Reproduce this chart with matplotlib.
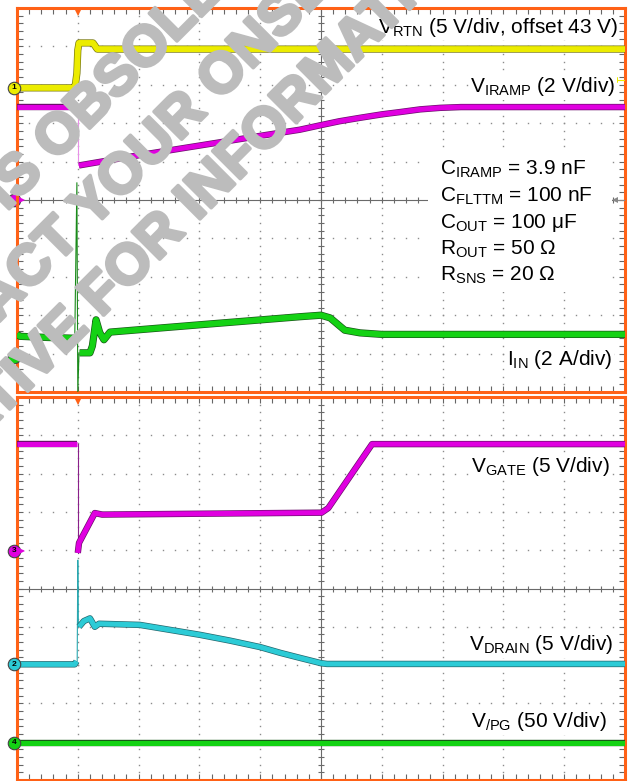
import numpy as np
import matplotlib
matplotlib.use('Agg')
import matplotlib.pyplot as plt
import matplotlib.patheffects as pe
from matplotlib.patches import Rectangle

plt.rcParams['font.family'] = ['Liberation Sans', 'DejaVu Sans']
plt.rcParams['mathtext.fontset'] = 'custom'
plt.rcParams['mathtext.rm'] = 'Liberation Sans'
plt.rcParams['mathtext.default'] = 'regular'

# screen geometry (pixels)
W, H = 628, 781
X0, X1 = 17, 625
TOP_PANEL = (8, 392)
BOT_PANEL = (397, 780)

# all traces in screen divisions, 10 x 10 per panel, trigger at 1 div
# --- upper panel ---
rtn_t = [0, 0.93, 0.96, 0.985, 1.0, 1.02, 1.25, 1.32, 10]
rtn_v = [7.92, 7.92, 8.0, 8.3, 8.9, 9.09, 9.09, 8.93, 8.93]

iramp_pre_t = [0, 0.97]
iramp_pre_v = [7.42, 7.42]
iramp_t = [1.02, 2.02, 3.01, 4.0, 4.65, 5.0, 5.3, 5.64, 6.0, 6.3, 6.63, 6.96, 7.3, 10]
iramp_v = [5.9, 6.17, 6.42, 6.67, 6.83, 6.95, 7.05, 7.14, 7.23, 7.29, 7.36, 7.40, 7.42, 7.42]

iin_pre_t = [0, 0.05, 0.5, 0.95]
iin_pre_v = [1.5, 1.45, 1.42, 1.4]
iin_spike_t = [0.95, 0.985, 1.0, 1.02]
iin_spike_v = [1.4, 5.45, 0.0, 1.02]
iin_t = [1.03, 1.2, 1.24, 1.3, 1.36, 1.43, 1.53, 3.0, 4.65, 5.0, 5.15, 5.39, 5.64, 6.0, 10]
iin_v = [1.02, 1.02, 1.2, 1.88, 1.55, 1.36, 1.56, 1.75, 1.96, 2.0, 1.93, 1.61, 1.54, 1.5, 1.5]

# --- lower panel ---
gate_pre_t = [0, 0.98]
gate_pre_v = [8.77, 8.77]
gate_t = [1.0, 1.02, 1.28, 1.4, 5.01, 5.12, 5.84, 5.95, 10]
gate_v = [5.93, 6.19, 6.97, 6.93, 6.98, 7.1, 8.77, 8.77, 8.77]

drain_pre_t = [0, 0.95, 0.98]
drain_pre_v = [3.02, 3.02, 3.1]
drain_edge_t = [0.99, 1.0, 1.01]
drain_edge_v = [3.1, 5.74, 4.0]
drain_t = [1.02, 1.1, 1.2, 1.28, 1.35, 2.02, 3.01, 3.5, 4.0, 4.33, 4.65, 5.0, 5.1, 10]
drain_v = [4.0, 4.15, 4.22, 4.0, 4.08, 4.05, 3.79, 3.64, 3.47, 3.32, 3.19, 3.05, 3.03, 3.03]

pg_t = [0, 10]
pg_v = [0.97, 0.97]

ORANGE = '#ff6116'
YELLOW = '#ecec00'
MAGENTA = '#e000e0'
GREEN = '#14d214'
CYAN = '#2ccbd6'

fig = plt.figure(figsize=(W / 100, H / 100), dpi=100)


def panel(y0, y1):
    ax = fig.add_axes([X0 / W, 1 - y1 / H, (X1 - X0) / W, (y1 - y0) / H])
    ax.set_xlim(0, 10)
    ax.set_ylim(0, 10)
    minor = np.arange(0, 10.001, 0.2)
    ax.set_xticks(minor)
    ax.set_yticks(minor)
    ax.tick_params(direction='in', length=4, width=0.8, color='#666',
                   top=True, right=True, labelbottom=False, labelleft=False)
    for s in ax.spines.values():
        s.set_color(ORANGE)
        s.set_linewidth(2.2)
    # dotted graticule
    for d in [1, 2, 3, 4, 6, 7, 8, 9]:
        ax.plot([d] * len(minor), minor, ls='none', marker='s', ms=1.0,
                mew=0, color='#8c8c8c', zorder=1)
        ax.plot(minor, [d] * len(minor), ls='none', marker='s', ms=1.0,
                mew=0, color='#8c8c8c', zorder=1)
    # centre axes with cross ticks
    ax.axhline(5, color='#6a6a6a', lw=0.8, zorder=1)
    ax.axvline(5, color='#6a6a6a', lw=0.8, zorder=1)
    ax.plot(minor, [5] * len(minor), ls='none', marker='|', ms=5, mew=0.8,
            color='#6a6a6a', zorder=1)
    ax.plot([5] * len(minor), minor, ls='none', marker='_', ms=5, mew=0.8,
            color='#6a6a6a', zorder=1)
    # trigger position
    ax.plot(1.0, 9.86, marker='v', ms=5, color=ORANGE, mew=0, zorder=6)
    return ax


def trace(ax, t, v, color, edge, lw=4.2):
    ax.plot(t, v, color=color, lw=lw, solid_capstyle='butt',
            solid_joinstyle='round', zorder=4,
            path_effects=[pe.Stroke(linewidth=lw + 1.0, foreground=edge),
                          pe.Normal()])


def thin(ax, t, v, color):
    ax.plot(t, v, color=color, lw=0.8, zorder=4)


def channel(ax, y, color, num, behind=False):
    ax.plot(-0.05, y, 'o', ms=9, mfc=color, mec='#444', mew=0.8,
            clip_on=False, zorder=1 if behind else 6)
    if not behind:
        ax.text(-0.05, y, num, fontsize=6, fontweight='bold', ha='center',
                va='center', zorder=7, clip_on=False)


def label(ax, x, y, s, ha='right'):
    ax.text(x, y, s, fontsize=15, ha=ha, va='baseline', zorder=8,
            bbox=dict(facecolor='white', edgecolor='none', pad=1))


ax1 = panel(*TOP_PANEL)
ax2 = panel(*BOT_PANEL)

# upper panel traces
trace(ax1, rtn_t, rtn_v, YELLOW, '#7a7a10')
trace(ax1, iramp_pre_t, iramp_pre_v, MAGENTA, '#6a106a', lw=3.6)
thin(ax1, [1.0, 1.0], [iramp_pre_v[-1], iramp_v[0]], '#e890e8')
trace(ax1, iramp_t, iramp_v, MAGENTA, '#6a106a', lw=3.6)
trace(ax1, iin_pre_t, iin_pre_v, GREEN, '#185818')
thin(ax1, iin_spike_t, iin_spike_v, '#1a8a1a')
trace(ax1, iin_t, iin_v, GREEN, '#185818')

channel(ax1, rtn_v[0], YELLOW, '1')
channel(ax1, 5.0, MAGENTA, '', behind=True)
ax1.plot(0.08, 5.0, marker='>', ms=5, color=MAGENTA, mew=0, clip_on=False, zorder=6)
channel(ax1, 0.91, GREEN, '4')
ax1.plot([9.84, 10], [8.125, 8.125], color=YELLOW, lw=0.8, zorder=6)
ax1.plot(9.84, 8.125, marker='<', ms=5, color=YELLOW, mew=0, zorder=6)
ax1.plot([9.84, 10], [5.0, 5.0], color='#888', lw=0.8, zorder=6)
ax1.plot(9.84, 5.0, marker='<', ms=5, color='#888', mew=0, zorder=6)

# lower panel traces
trace(ax2, gate_pre_t, gate_pre_v, MAGENTA, '#6a106a', lw=3.6)
thin(ax2, [1.0, 1.0], [gate_pre_v[-1], gate_v[0]], '#8a208a')
trace(ax2, gate_t, gate_v, MAGENTA, '#6a106a', lw=3.6)
trace(ax2, drain_pre_t, drain_pre_v, CYAN, '#23666c', lw=3.6)
thin(ax2, drain_edge_t, drain_edge_v, '#2aa8b0')
trace(ax2, drain_t, drain_v, CYAN, '#23666c', lw=3.6)
trace(ax2, pg_t, pg_v, GREEN, '#185818', lw=3.6)

channel(ax2, 5.98, MAGENTA, '3')
ax2.plot(0.09, 5.98, marker='>', ms=5, color=MAGENTA, mew=0, clip_on=False, zorder=6)
channel(ax2, drain_pre_v[0], CYAN, '2')
channel(ax2, pg_v[0], GREEN, '4')

# annotations
label(ax1, 9.885, 9.35, r'$V_{RTN}$ (5 V/div, offset 43 V)')
label(ax1, 9.84, 7.81, r'$V_{IRAMP}$ (2 V/div)')
ax1.add_patch(Rectangle((6.76, 2.6), 3.03, 3.7, facecolor='white',
                        edgecolor='none', zorder=7))
params = [r'$C_{IRAMP}$ = 3.9 nF', r'$C_{FLTTM}$ = 100 nF',
          r'$C_{OUT}$ = 100 μF', r'$R_{OUT}$ = 50 Ω', r'$R_{SNS}$ = 20 Ω']
for i, s in enumerate(params):
    label(ax1, 6.96, 5.65 - 0.69 * i, s, ha='left')
label(ax1, 9.80, 0.70, r'$I_{IN}$ (2 A/div)')

label(ax2, 9.74, 8.04, r'$V_{GATE}$ (5 V/div)')
label(ax2, 9.80, 3.39, r'$V_{DRAIN}$ (5 V/div)')
label(ax2, 9.69, 1.38, r'$V_{/PG}$ (50 V/div)')

# obsolete-part stamp: one 45 degree line per string, centre given in pixels
GREY = '#bcbcbc'
stamp = [('IS OBSOLETE', 128, 62),
         ('CONTACT YOUR ONSEMI', 119, 174),
         ('REPRESENTATIVE FOR INFORMATION', 91, 300)]
for words, px, py in stamp:
    fig.text((px + 14) / W, 1 - (py + 14) / H, words, fontsize=41,
             fontweight='bold', color=GREY, rotation=45,
             rotation_mode='anchor', ha='center', va='baseline', zorder=5,
             path_effects=[pe.withStroke(linewidth=2.5, foreground=GREY)])

fig.savefig('out.png', dpi=100)
